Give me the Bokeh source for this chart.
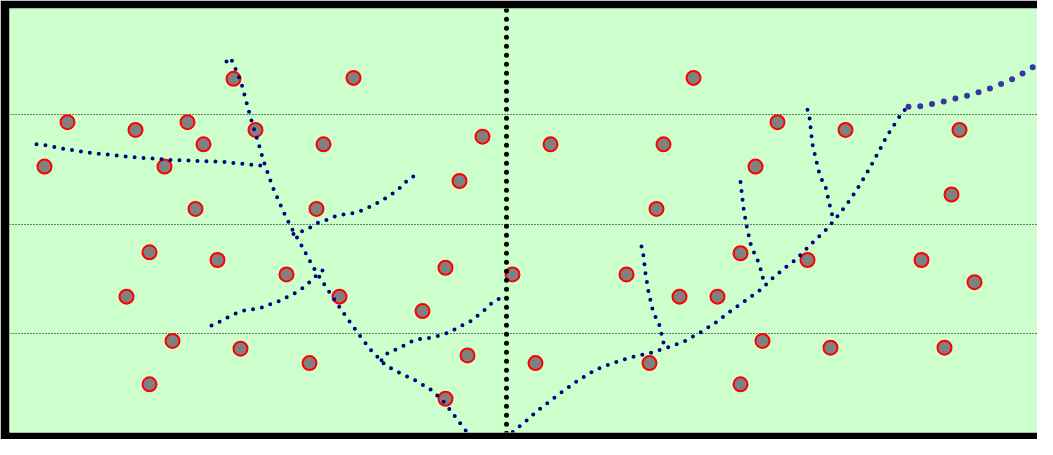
from bokeh.plotting import figure
from bokeh.models import Range1d, Grid, FixedTicker
from bokeh.embed import file_html
from bokeh.resources import INLINE

# ---- data (units) ----
circle_x = [67, 135, 187, 203, 44, 164, 233, 255, 353, 323, 482, 459, 195, 316, 149, 217, 286,
            126, 339, 445, 512, 422, 172, 240, 309, 467, 535, 445, 149, 550, 663, 693, 656, 626,
            679, 717, 740, 755, 777, 845, 807, 762, 830, 740, 649, 959, 951, 921, 974, 944]
circle_y = [322, 314, 322, 299, 276, 276, 367, 314, 368, 299, 307, 261, 232, 232, 187, 179, 164,
            141, 141, 171, 164, 126, 95, 87, 72, 80, 72, 35, 50, 299, 299, 368, 232, 164,
            141, 141, 186, 276, 322, 314, 179, 95, 88, 50, 72, 314, 247, 179, 156, 88]

grid_y = [103, 216, 330]
divider_x = [506, 506]
divider_y = [-10, 445]

left_trunk_x = [226, 230, 234, 241, 250, 258, 263, 272, 283, 291, 300, 313, 328, 343, 359, 370,
                383, 390, 399, 415, 431, 444, 455, 466, 473]
left_trunk_y = [385, 389, 380, 362, 327, 300, 282, 255, 229, 212, 196, 171, 147, 124, 101, 86,
                72, 67, 62, 54, 44, 31, 16, 1, -9]

left_branch_a_x = [36, 46, 65, 92, 130, 167, 220, 250, 261]
left_branch_a_y = [299, 298, 294, 290, 286, 283, 281, 278, 277]

left_branch_b_x = [293, 302, 310, 318, 327, 336, 354, 363, 371, 380, 388, 395, 402, 408, 415]
left_branch_b_y = [206, 209, 213, 218, 221, 225, 228, 231, 235, 240, 245, 250, 256, 263, 267]

left_branch_c_x = [211, 219, 228, 236, 245, 254, 263, 272, 280, 289, 297, 305, 311, 317, 324]
left_branch_c_y = [111, 115, 120, 124, 127, 128, 130, 134, 137, 142, 146, 152, 158, 164, 170]

left_branch_d_x = [381, 385, 393, 401, 410, 419, 428, 437, 446, 454, 463, 471, 478, 485, 492, 499, 503]
left_branch_d_y = [75, 81, 85, 89, 94, 97, 98, 100, 103, 107, 112, 116, 122, 128, 135, 139, 143]

right_trunk_x = [505, 507, 514, 521, 528, 535, 550, 564, 579, 595, 612, 630, 648, 666, 683, 700,
                 715, 730, 745, 760, 773, 787, 795, 814, 827, 839, 850, 860, 869, 878, 886, 896,
                 901, 907]
right_trunk_y = [-5, -4, 2, 8, 14, 21, 33, 44, 55, 65, 72, 78, 82, 88, 94, 104,
                 114, 126, 137, 148, 161, 173, 179, 199, 212, 227, 242, 258, 274, 291, 307, 323,
                 331, 338]

right_tail_x = [908, 914, 926, 937, 949, 961, 972, 984, 995, 1006, 1017, 1027, 1037, 1047, 1060]
right_tail_y = [338, 337, 340, 342, 345, 348, 351, 355, 359, 364, 369, 376, 382, 389, 398]

right_branch_a_x = [641, 643, 645, 648, 650, 652, 655, 659, 661, 663, 666]
right_branch_a_y = [193, 183, 165, 146, 137, 128, 120, 111, 102, 93, 87]

right_branch_b_x = [740, 741, 743, 746, 750, 753, 757, 760, 762, 766]
right_branch_b_y = [260, 251, 233, 215, 196, 188, 179, 170, 161, 155]

right_branch_c_x = [807, 809, 811, 812, 816, 818, 821, 825, 829, 833]
right_branch_c_y = [335, 327, 308, 299, 281, 272, 263, 255, 237, 220]

# ---- figure ----
p = figure(width=1037, height=439,
           x_range=Range1d(9, 1037), y_range=Range1d(0, 440),
           x_axis_type=None, y_axis_type=None,
           output_backend="svg", toolbar_location=None,
           min_border_left=9, min_border_top=8, min_border_bottom=7, min_border_right=0,
           background_fill_color="#CCFFCC", border_fill_color="black",
           outline_line_color=None)

g = Grid(dimension=1, ticker=FixedTicker(ticks=grid_y),
         grid_line_color="black", grid_line_dash="1 2", grid_line_width=1)
p.add_layout(g)

p.scatter(circle_x, circle_y, size=14, fill_color="#808080",
          line_color="#FF0000", line_width=2)

navy_lines = [
    (left_trunk_x, left_trunk_y),
    (left_branch_a_x, left_branch_a_y),
    (left_branch_b_x, left_branch_b_y),
    (left_branch_c_x, left_branch_c_y),
    (left_branch_d_x, left_branch_d_y),
    (right_trunk_x, right_trunk_y),
    (right_branch_a_x, right_branch_a_y),
    (right_branch_b_x, right_branch_b_y),
    (right_branch_c_x, right_branch_c_y),
]
for xs, ys in navy_lines:
    p.line(xs, ys, line_color="#000080", line_width=4, line_dash="0 9",
           line_cap="round", line_join="round")

p.line(right_tail_x, right_tail_y, line_color="#3636A6", line_width=6,
       line_dash="0 12", line_cap="round", line_join="round")

p.line(divider_x, divider_y, line_color="black", line_width=5, line_dash="0 9",
       line_cap="round")

open("out.html", "w").write(file_html(p, INLINE))
